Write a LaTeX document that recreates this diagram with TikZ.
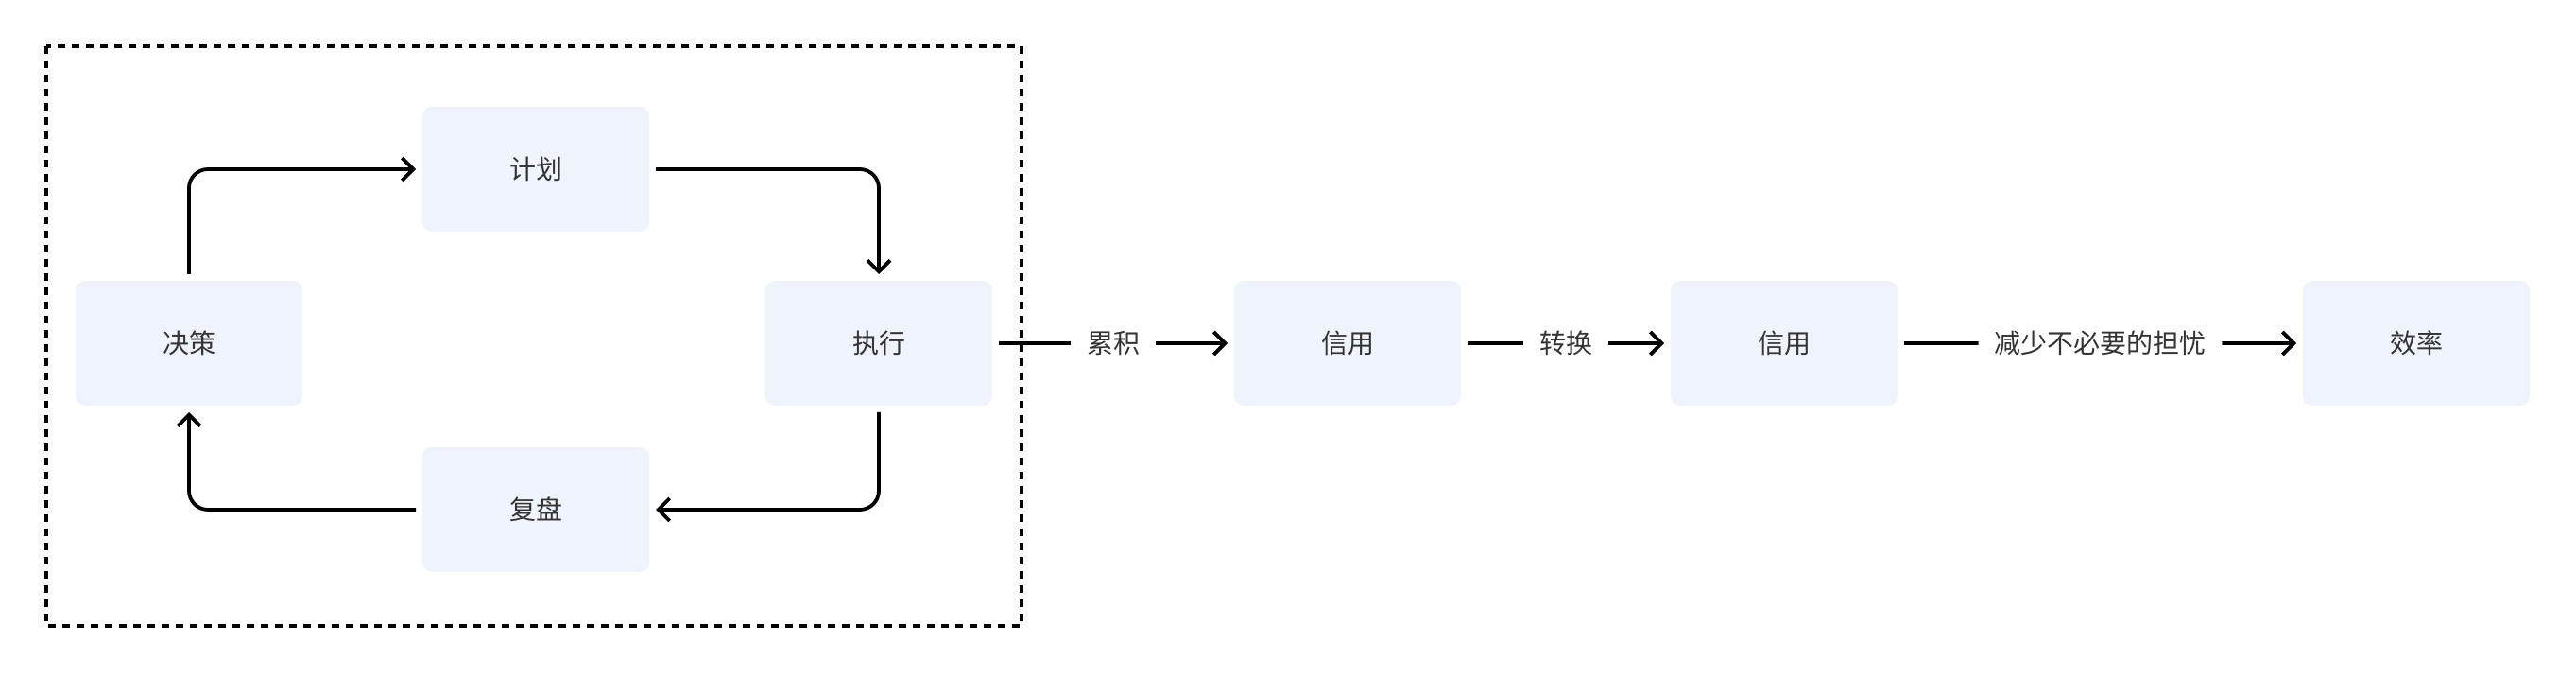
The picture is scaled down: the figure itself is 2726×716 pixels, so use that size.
\documentclass[tikz,border=0pt]{standalone}
\usepackage{fontspec}
\newfontfamily\cjk{Noto Sans CJK SC}
\usetikzlibrary{arrows.meta}
\definecolor{boxfill}{HTML}{EFF3FC}
\definecolor{txt}{HTML}{333333}

\begin{document}
\begin{tikzpicture}[x=0.5pt,y=-0.5pt,
	stage/.style={rectangle,rounded corners=5pt,fill=boxfill,text=txt,
		minimum width=120pt,minimum height=66pt,outer sep=3.5pt,
		font=\cjk\fontsize{14}{17}\selectfont},
	flow/.style={line width=1.9pt,rounded corners=10pt,
		-{Straight Barb[length=6pt,width=12pt,line width=1.9pt]}},
	tag/.style={fill=white,text=txt,inner xsep=8.5pt,
		font=\cjk\fontsize{14}{17}\selectfont}]
	\useasboundingbox (0,0) rectangle (2726,716);

	% loop
	\draw[line width=1.8pt,dash pattern=on 4pt off 3.5pt] (49,49) rectangle (1081,662);
	\node[stage] (juece) at (200,363) {决策};
	\node[stage] (jihua) at (567,179) {计划};
	\node[stage] (zhixing) at (930,363) {执行};
	\node[stage] (fupan) at (567,539) {复盘};

	\draw[flow] (juece.north) |- (jihua.west);
	\draw[flow] (jihua.east) -| (zhixing.north);
	\draw[flow] (zhixing.south) |- (fupan.east);
	\draw[flow] (fupan.west) -| (juece.south);

	% chain
	\node[stage] (xinyong1) at (1426,363) {信用};
	\node[stage] (xinyong2) at (1888,363) {信用};
	\node[stage] (xiaolv) at (2557,363) {效率};

	\draw[flow] (zhixing) -- node[tag] {累积} (xinyong1);
	\draw[flow] (xinyong1) -- node[tag] {转换} (xinyong2);
	\draw[flow] (xinyong2) -- node[tag] {减少不必要的担忧} (xiaolv);
\end{tikzpicture}
\end{document}
